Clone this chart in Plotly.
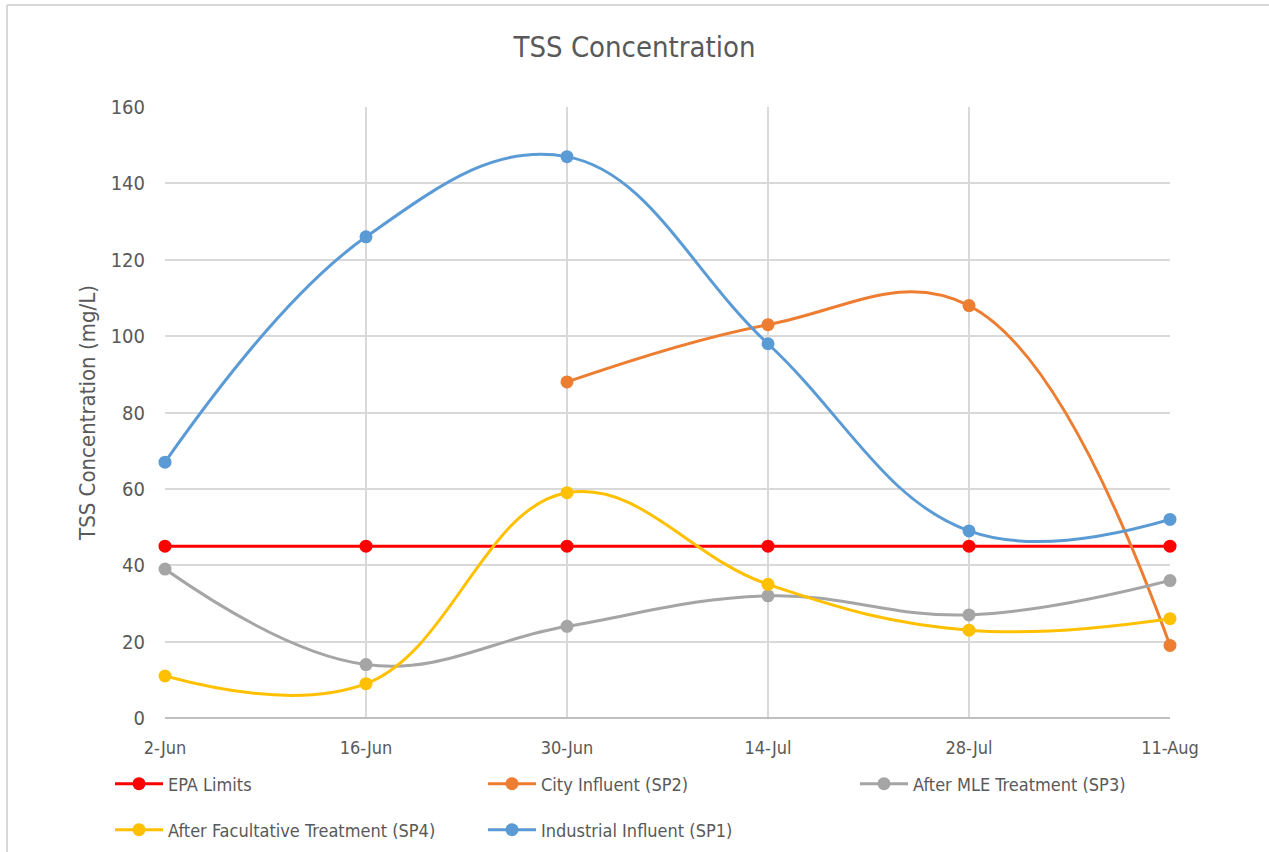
import plotly.graph_objects as go

# Sampling dates (two-week intervals)
dates = ["2-Jun", "16-Jun", "30-Jun", "14-Jul", "28-Jul", "11-Aug"]

# TSS concentrations in mg/L
epa_limits = [45, 45, 45, 45, 45, 45]
city_influent = [None, None, 88, 103, 108, 19]
after_mle = [39, 14, 24, 32, 27, 36]
after_facultative = [11, 9, 59, 35, 23, 26]
industrial_influent = [67, 126, 147, 98, 49, 52]

y_ticks = [0, 20, 40, 60, 80, 100, 120, 140, 160]

series = [
    ("EPA Limits", epa_limits, "#ff0000"),
    ("City Influent (SP2)", city_influent, "#ed7d31"),
    ("After MLE Treatment (SP3)", after_mle, "#a5a5a5"),
    ("After Facultative Treatment (SP4)", after_facultative, "#ffc000"),
    ("Industrial Influent (SP1)", industrial_influent, "#5b9bd5"),
]

FONT = "Liberation Sans Narrow, DejaVu Sans Condensed, Arial Narrow, sans-serif"
TEXT = "#595959"

W, H = 1269, 852
L, R, T, B = 165, 99, 107, 134
pw, ph = W - L - R, H - T - B


def px_x(p):
    return (p - L) / pw


def px_y(p):
    return (H - B - p) / ph


# legend slots: three columns on the first row, two on the second
legend_ids = ["legend", "legend2", "legend3", "legend4", "legend5"]
legend_pos = [(110, 784), (483, 784), (855, 784), (110, 830), (483, 830)]

fig = go.Figure()
for (name, vals, color), leg in zip(series, legend_ids):
    fig.add_trace(go.Scatter(
        x=dates, y=vals, name=name, mode="lines+markers",
        line=dict(color=color, width=3,
                  shape="linear" if name == "EPA Limits" else "spline",
                  smoothing=1.15),
        marker=dict(color=color, size=13),
        cliponaxis=False, connectgaps=False, legend=leg,
    ))

legend_layout = {}
for leg, (lx, ly) in zip(legend_ids, legend_pos):
    legend_layout[leg] = dict(
        x=px_x(lx), y=px_y(ly), xanchor="left", yanchor="middle",
        orientation="h", bgcolor="rgba(0,0,0,0)", itemwidth=48,
        font=dict(family=FONT, size=18, color=TEXT),
    )

fig.update_layout(
    width=W, height=H,
    margin=dict(l=L, r=R, t=T, b=B, autoexpand=False),
    paper_bgcolor="white", plot_bgcolor="white",
    title=dict(text="TSS Concentration", x=0.5, xanchor="center",
               y=1 - 47 / H, yanchor="middle", yref="container",
               font=dict(family=FONT, size=29, color=TEXT)),
    xaxis=dict(
        type="category", range=[0, len(dates) - 1],
        showgrid=True, gridcolor="#d9d9d9", gridwidth=2,
        showline=False, zeroline=False, ticks="",
        tickfont=dict(family=FONT, size=18, color=TEXT),
        ticklabelstandoff=17,
    ),
    yaxis=dict(
        range=[0, 160], tickvals=y_ticks,
        showgrid=True, gridcolor="#d9d9d9", gridwidth=2,
        zeroline=True, zerolinecolor="#bfbfbf", zerolinewidth=2,
        showline=False, ticks="",
        tickfont=dict(family=FONT, size=20, color=TEXT),
        ticklabelstandoff=19,
        title=dict(text="TSS Concentration (mg/L)",
                   font=dict(family=FONT, size=22, color=TEXT), standoff=8),
    ),
    showlegend=True,
    shapes=[
        dict(type="line", xref="paper", yref="paper",
             x0=px_x(7), x1=px_x(1269), y0=px_y(5), y1=px_y(5),
             line=dict(color="#d9d9d9", width=2)),
        dict(type="line", xref="paper", yref="paper",
             x0=px_x(7), x1=px_x(7), y0=px_y(5), y1=px_y(852),
             line=dict(color="#d9d9d9", width=2)),
    ],
    **legend_layout,
)

fig.write_html("out.html")
